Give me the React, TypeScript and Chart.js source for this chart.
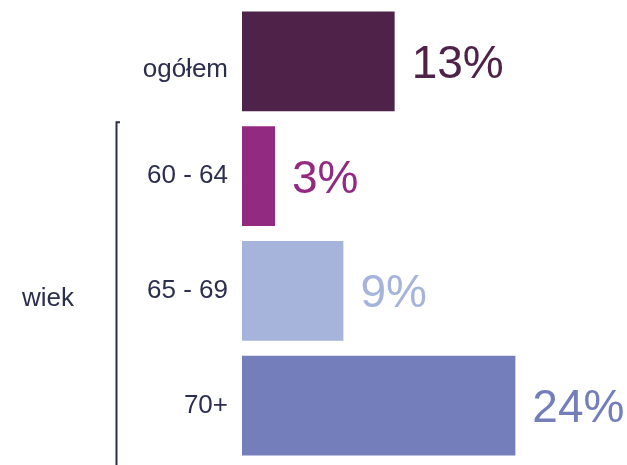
import React, { useEffect, useRef } from "react";
import { Chart, registerables } from "chart.js";

Chart.register(...registerables);

const categories = ["ogółem", "60 - 64", "65 - 69", "70+"];
const values = [13.4, 2.9, 8.9, 24.0];
const barColors = ["#4e2249", "#932a81", "#a6b3db", "#737eba"];
const groupLabel = "wiek";
const groupStart = 1; // index of first category in the "wiek" group

const TEXT = "#2c2e4e";
const FONT = "'Liberation Sans', Arial, sans-serif";

const valueLabels = {
  id: "valueLabels",
  afterDatasetsDraw(chart: any) {
    const ctx = chart.ctx;
    const meta = chart.getDatasetMeta(0);
    ctx.save();
    ctx.font = `46px ${FONT}`;
    ctx.textAlign = "left";
    ctx.textBaseline = "alphabetic";
    meta.data.forEach((bar: any, i: number) => {
      ctx.fillStyle = barColors[i];
      ctx.fillText(Math.round(values[i]) + "%", bar.x + 17, bar.y + 16.5);
    });
    ctx.restore();
  },
};

const bracket = {
  id: "bracket",
  afterDraw(chart: any) {
    const ctx = chart.ctx;
    const y = chart.scales.y;
    const top = y.getPixelForValue(groupStart) - 54;
    const bottom = chart.height;
    ctx.save();
    ctx.strokeStyle = TEXT;
    ctx.lineWidth = 2;
    ctx.beginPath();
    ctx.moveTo(120, top);
    ctx.lineTo(116.5, top);
    ctx.lineTo(116.5, bottom);
    ctx.stroke();
    const mid = (y.getPixelForValue(groupStart) + y.getPixelForValue(categories.length - 1)) / 2;
    ctx.fillStyle = TEXT;
    ctx.font = `26px ${FONT}`;
    ctx.textAlign = "left";
    ctx.textBaseline = "alphabetic";
    ctx.fillText(groupLabel, 22, mid + 15);
    ctx.restore();
  },
};

export default function App() {
  const ref = useRef<HTMLCanvasElement>(null);
  useEffect(() => {
    if (!ref.current) return;
    const chart = new Chart(ref.current, {
      type: "bar",
      data: {
        labels: categories,
        datasets: [
          {
            data: values,
            backgroundColor: barColors,
            borderWidth: 0,
            barPercentage: 0.87,
            categoryPercentage: 1,
          },
        ],
      },
      options: {
        indexAxis: "y",
        responsive: false,
        animation: false,
        layout: { padding: { top: 4, bottom: 2, left: 0, right: 0 } },
        plugins: { legend: { display: false }, tooltip: { enabled: false } },
        scales: {
          x: { display: false, min: 0, max: 33.8 },
          y: {
            grid: { display: false, drawTicks: false },
            border: { display: false },
            ticks: {
              color: TEXT,
              font: (c: any) => ({
                family: FONT,
                size: 26,
                lineHeight: c.index === 0 ? 17 / 26 : 1.2,
              }),
              padding: 14,
              callback: (_v: any, i: number) => (i === 0 ? ["", categories[i]] : categories[i]),
            },
            afterFit(scale: any) {
              scale.width = 242;
              scale.paddingTop = 0;
              scale.paddingBottom = 0;
            },
          },
        },
      },
      plugins: [valueLabels, bracket],
    } as any);
    return () => chart.destroy();
  }, []);
  return (
    <div style={{ position: "absolute", left: 0, top: 0, width: 627, height: 465, background: "#fff" }}>
      <canvas ref={ref} width={627} height={465} />
    </div>
  );
}
